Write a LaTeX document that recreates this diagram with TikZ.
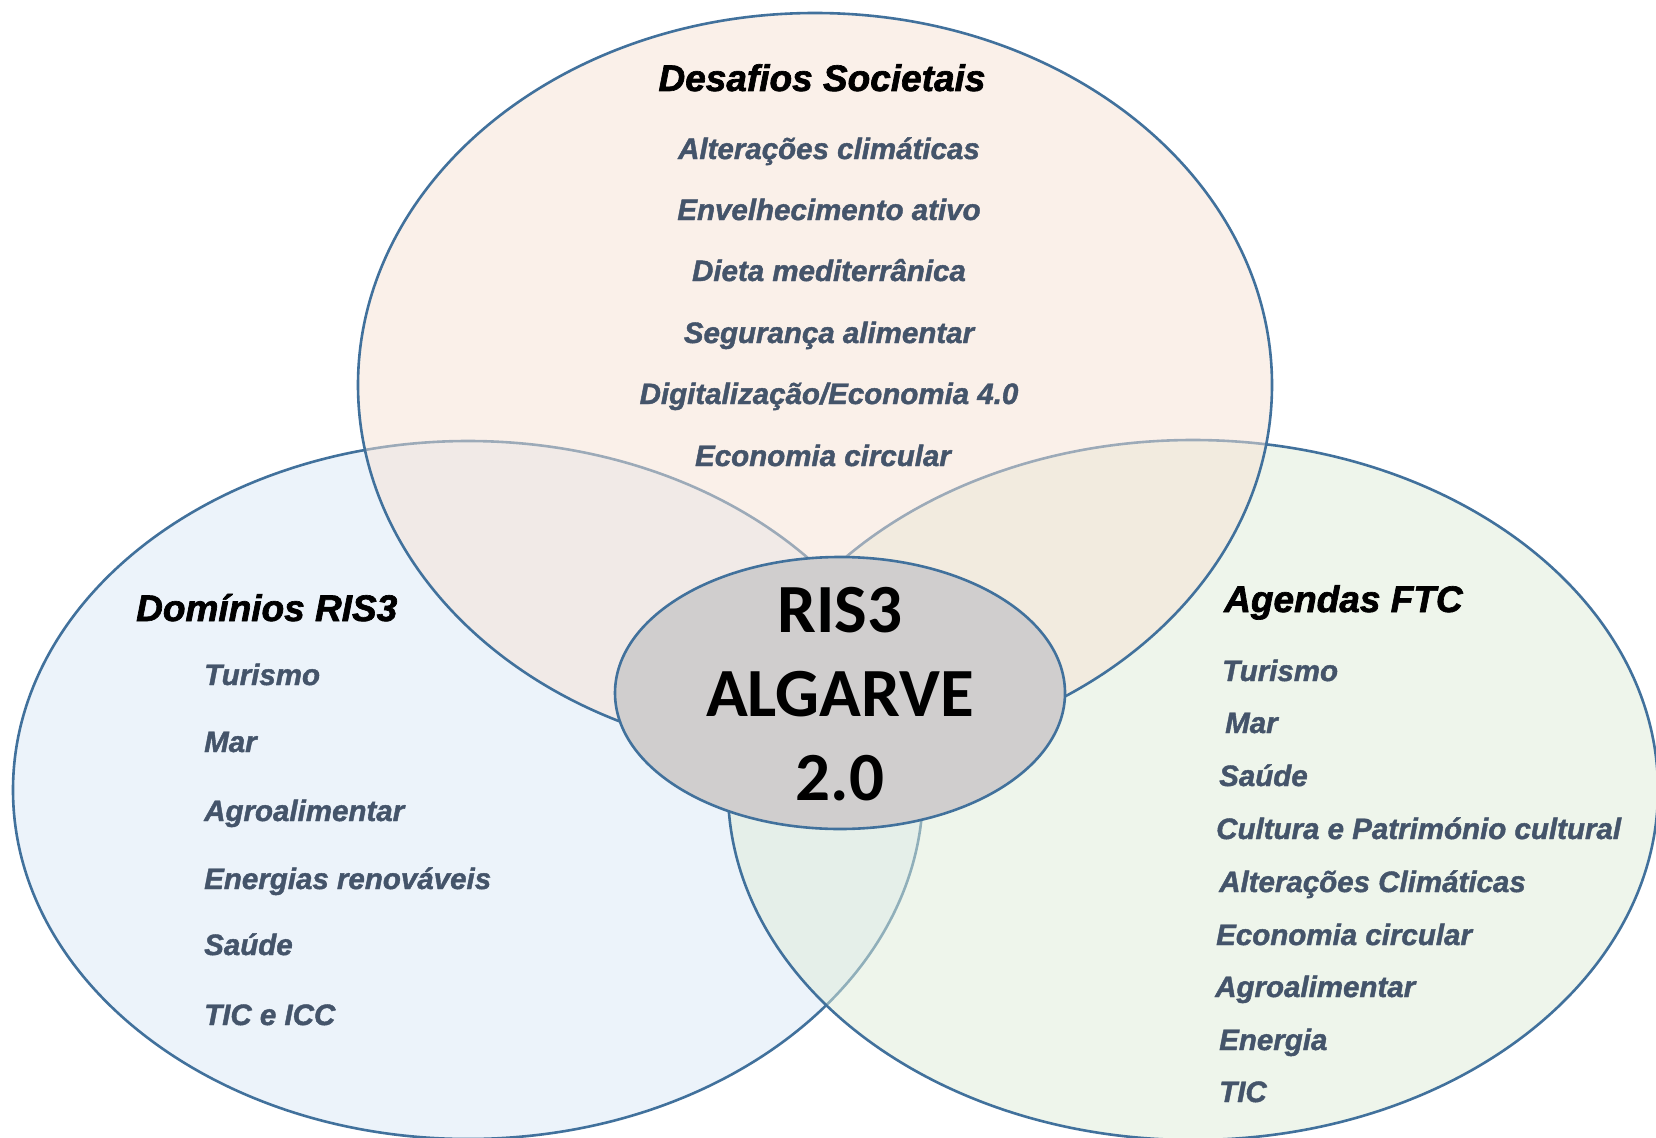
\documentclass[tikz,border=0pt]{standalone}
\usepackage{fontspec}
\setmainfont{Liberation Sans}
\newfontfamily\itemfont{Liberation Sans}[BoldItalicFeatures={FakeBold=1.4}]
\newfontfamily\headfont{Liberation Sans}[BoldItalicFeatures={FakeBold=1.8}]
\newfontfamily\calibri{Carlito}
\usepackage{tikz}
\usetikzlibrary{shapes.geometric}
\definecolor{rim}{HTML}{41719C}
\definecolor{itemtext}{HTML}{44546A}
\definecolor{peach}{HTML}{F7E3D5}
\definecolor{sky}{HTML}{DBE9F7}
\definecolor{mint}{HTML}{DFEDD9}
\definecolor{core}{HTML}{D0CECE}

\begin{document}
\begin{tikzpicture}[x=1pt, y=-1pt,
    set/.style = {draw=rim, line width=2.6pt, ellipse, inner sep=0pt, outer sep=0pt, fill opacity=0.5},
    head/.style = {anchor=base west, inner sep=0pt, font=\fontsize{37}{44}\selectfont\headfont\bfseries\itshape},
    entry/.style = {anchor=base west, inner sep=0pt, text=itemtext, font=\fontsize{29.5}{35}\selectfont\itemfont\bfseries\itshape}]
      \useasboundingbox[fill=white] (0,0) rectangle (1656,1137);

      % the three sets
      \node[set, fill=sky, minimum width=910pt, minimum height=698pt] (dom) at (468,790) {};
      \node[set, fill=mint, minimum width=930pt, minimum height=700pt] (ftc) at (1193,790) {};
      \node[set, fill=peach, minimum width=914pt, minimum height=744pt] (soc) at (815,385) {};
      \node[draw=rim, line width=2.6pt, ellipse, fill=core, minimum width=450pt, minimum height=272pt] (ris) at (840,693) {};

      \node[align=center, font=\fontsize{69}{84}\selectfont\calibri\bfseries] (title) at (840,694) {RIS3\\ALGARVE\\2.0};

      % Desafios Societais
      \node[head, anchor=base] (s0) at (822,91) {Desafios Societais};
      \node[entry, anchor=base] (s1) at (829,159) {Alterações climáticas};
      \node[entry, anchor=base] (s2) at (829,220) {Envelhecimento ativo};
      \node[entry, anchor=base] (s3) at (829,281) {Dieta mediterrânica};
      \node[entry, anchor=base] (s4) at (829,343) {Segurança alimentar};
      \node[entry, anchor=base] (s5) at (829,404) {Digitalização/Economia 4.0};
      \node[entry, anchor=base] (s6) at (823,466) {Economia circular};

      % Dominios RIS3
      \node[head] (d0) at (136,621) {Domínios RIS3};
      \node[entry] (d1) at (204,685) {Turismo};
      \node[entry] (d2) at (204,752) {Mar};
      \node[entry] (d3) at (204,821) {Agroalimentar};
      \node[entry] (d4) at (204,889) {Energias renováveis};
      \node[entry] (d5) at (204,955) {Saúde};
      \node[entry] (d6) at (204,1025) {TIC e ICC};

      % Agendas FTC
      \node[head] (f0) at (1224,612) {Agendas FTC};
      \node[entry] (f1) at (1222,681) {Turismo};
      \node[entry] (f2) at (1225,733) {Mar};
      \node[entry] (f3) at (1219,786) {Saúde};
      \node[entry] (f4) at (1216,839) {Cultura e Património cultural};
      \node[entry] (f5) at (1219,892) {Alterações Climáticas};
      \node[entry] (f6) at (1216,945) {Economia circular};
      \node[entry] (f7) at (1215,997) {Agroalimentar};
      \node[entry] (f8) at (1219,1050) {Energia};
      \node[entry] (f9) at (1219,1102) {TIC};
    \end{tikzpicture}
\end{document}
